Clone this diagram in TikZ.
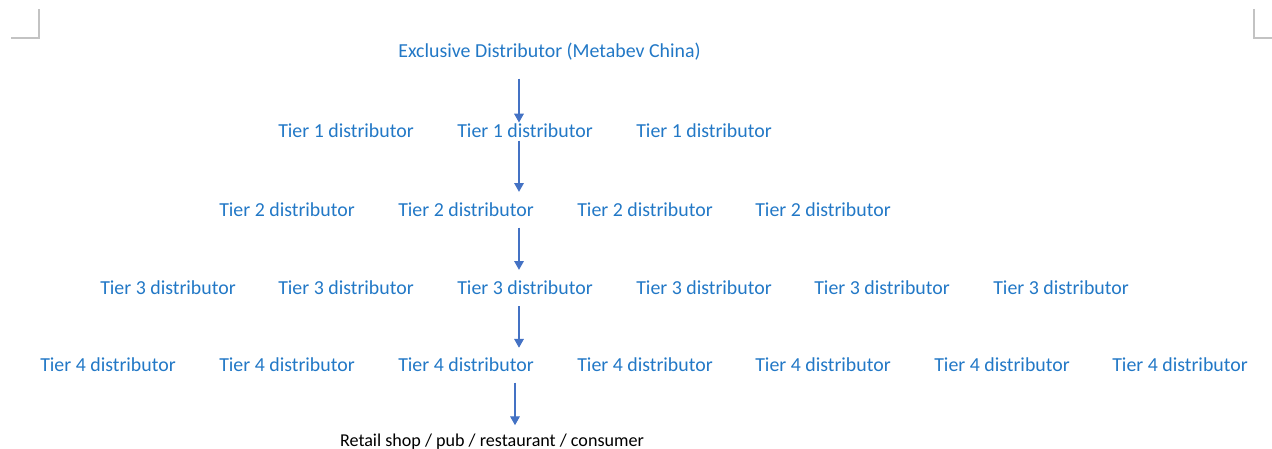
\documentclass[tikz,border=0pt]{standalone}
\usepackage{fontspec}
\setmainfont{Carlito}
\usepackage{xcolor}
\usepackage{tikz}
\usetikzlibrary{arrows.meta}
\definecolor{tierblue}{HTML}{2278C6}
\definecolor{arrowblue}{HTML}{4472C4}
\definecolor{markgray}{HTML}{C3C3C3}
\tikzset{
  tierlbl/.style={
    anchor=base, inner sep=0pt, text=tierblue,
    font=\fontsize{11.3}{13}\selectfont
  },
  endlbl/.style={
    anchor=base, inner sep=0pt, text=black,
    font=\fontsize{10.3}{12}\selectfont
  },
  flow/.style={
    -{Triangle[length=5pt,width=5.5pt]}, line width=0.6pt, color=arrowblue
  },
  cornermark/.style={
    line width=0.85pt, color=markgray
  },
}

\begin{document}
\begin{tikzpicture}[x=0.02cm, y=-0.02cm]
  \useasboundingbox (0,0) rectangle (1272,449);

  % page corner marks
  \draw[cornermark] (11,38) -- (39,38) -- (39,9);
  \draw[cornermark] (1254,9) -- (1254,38) -- (1272,38);

  % distributor chain
  \node[tierlbl] (top) at (549.5,58) {Exclusive Distributor (Metabev China)};
  \foreach \x [count=\i] in {346,525,704}
    \node[tierlbl] (t1-\i) at (\x,137.5) {Tier 1 distributor};
  \foreach \x [count=\i] in {287,466,645,823}
    \node[tierlbl] (t2-\i) at (\x,216.5) {Tier 2 distributor};
  \foreach \x [count=\i] in {168,346,525,704,882,1061}
    \node[tierlbl] (t3-\i) at (\x,294.5) {Tier 3 distributor};
  \foreach \x [count=\i] in {108,287,466,645,823,1002,1180}
    \node[tierlbl] (t4-\i) at (\x,371.5) {Tier 4 distributor};
  \node[endlbl] (retail) at (492,446) {Retail shop / pub / restaurant / consumer};

  \coordinate (axis) at (519,0);
  \coordinate (axisb) at (515,0);

  \draw[flow, shorten <=10pt, shorten >=0.5pt] (top.south -| axis) -- (t1-2.north -| axis);
  \draw[flow, shorten <=1.5pt, shorten >=6pt] (t1-2.south -| axis) -- (t2-2.north -| axis);
  \draw[flow, shorten <=6pt, shorten >=6pt] (t2-2.south -| axis) -- (t3-3.north -| axis);
  \draw[flow, shorten <=6.5pt, shorten >=5.5pt] (t3-3.south -| axis) -- (t4-3.north -| axis);
  \draw[flow, shorten <=6pt, shorten >=4.5pt] (t4-3.south -| axisb) -- (retail.north -| axisb);
\end{tikzpicture}
\end{document}
